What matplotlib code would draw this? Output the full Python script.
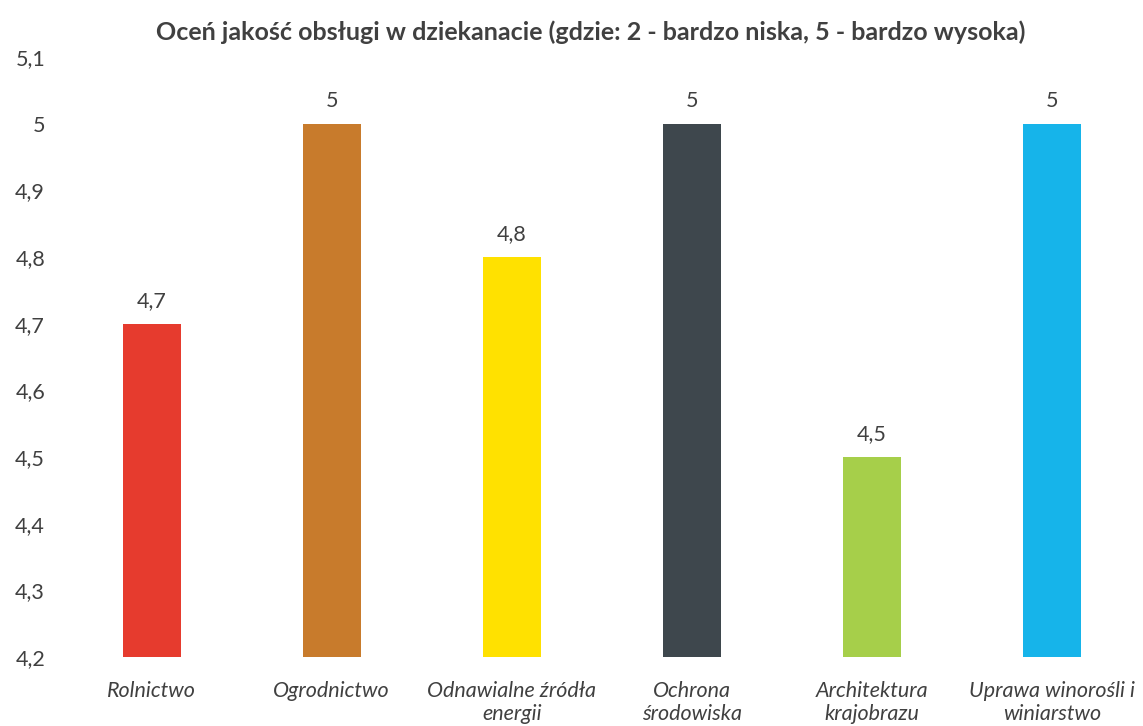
import matplotlib
matplotlib.use("Agg")
import matplotlib.pyplot as plt

plt.rcParams['font.family'] = ['Lato', 'DejaVu Sans']

# dane
kierunki = ['Rolnictwo', 'Ogrodnictwo', 'Odnawialne źródła\nenergii', 'Ochrona\nśrodowiska',
            'Architektura\nkrajobrazu', 'Uprawa winorośli i\nwiniarstwo']
oceny = [4.7, 5.0, 4.8, 5.0, 4.5, 5.0]
kolory = ['#E63B2E', '#C87B2C', '#FFE100', '#3E474D', '#A6CF4A', '#16B4EA']
yticks = [4.2, 4.3, 4.4, 4.5, 4.6, 4.7, 4.8, 4.9, 5.0, 5.1]
tytul = 'Oceń jakość obsługi w dziekanacie (gdzie: 2 - bardzo niska, 5 - bardzo wysoka)'

fig = plt.figure(figsize=(11.43, 7.26), dpi=100)
ax = fig.add_axes([0.054, 0.095, 0.945, 0.8265])

x = range(len(kierunki))
ax.bar(x, [v - 4.2 for v in oceny], bottom=4.2, width=0.32, color=kolory)

for i, v in zip(x, oceny):
    etykieta = ('%g' % v).replace('.', ',')
    ax.text(i, v + 0.019, etykieta, ha='center', va='bottom', fontsize=15.5, color='#404040')

ax.set_xlim(-0.5, len(kierunki) - 0.5)
ax.set_ylim(4.2, 5.1)
ax.set_yticks(yticks)
ax.set_yticklabels([('%g' % t).replace('.', ',') for t in yticks], fontsize=15.5, color='#404040')
ax.set_xticks(list(x))
ax.set_xticklabels(kierunki, fontsize=15.5, style='italic', color='#404040', linespacing=1.2)
ax.tick_params(axis='both', length=0)
ax.tick_params(axis='y', pad=12)
ax.tick_params(axis='x', pad=17)
for s in ax.spines.values():
    s.set_visible(False)

fig.text(0.517, 0.955, tytul, ha='center', va='center', fontsize=18, fontweight='bold', color='#404040')

fig.savefig('out.png', dpi=100)
